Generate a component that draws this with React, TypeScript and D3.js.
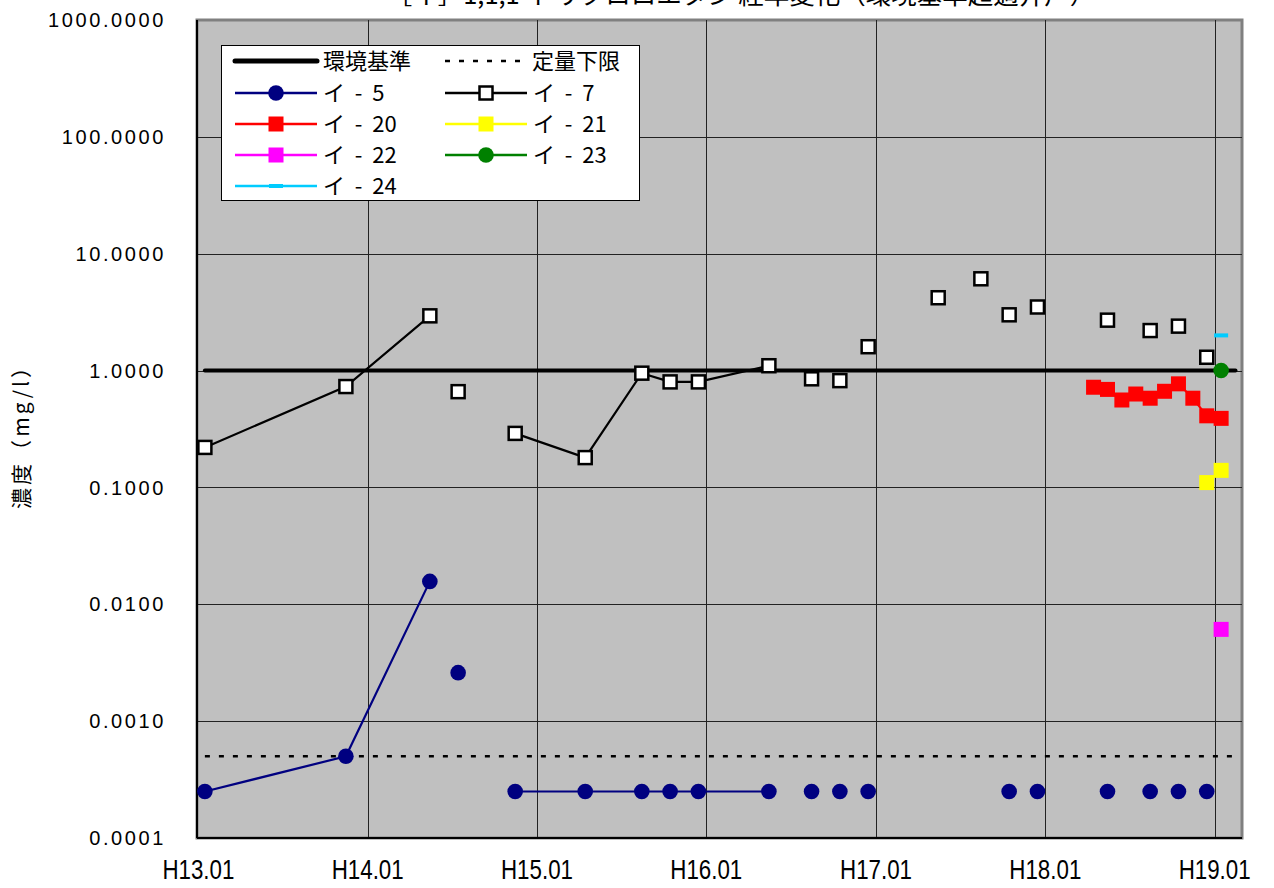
import React from "react";
import * as d3 from "d3";

// ---------- data ----------
const chartTitle = "［イ］1,1,1-トリクロロエタン 経年変化（環境基準超過井戸）";
const yAxisTitle = "濃度（mg/l）";

const xTickDates = ["2001-01-01", "2002-01-01", "2003-01-01", "2004-01-01", "2005-01-01", "2006-01-01", "2007-01-01"];
const xTickLabels = ["H13.01", "H14.01", "H15.01", "H16.01", "H17.01", "H18.01", "H19.01"];
const yTickValues = [0.0001, 0.001, 0.01, 0.1, 1, 10, 100, 1000];

// reference lines
const envStandardValue = 1.0;
const loqValue = 0.0005;
const refLineDates = ["2001-01-15", "2007-02-15"];

// null entries mark a gap in the record (line break)
const i5Dates = [
  "2001-01-15", "2001-11-15", "2002-05-15", null, "2002-07-15", null,
  "2002-11-15", "2003-04-15", "2003-08-15", "2003-10-15", "2003-12-15", "2004-05-15", null,
  "2004-08-15", null, "2004-10-15", null, "2004-12-15", null,
  "2005-10-15", null, "2005-12-15", null, "2006-05-15", null, "2006-08-15", null,
  "2006-10-15", null, "2006-12-15",
];
const i5Values = [
  0.00025, 0.0005, 0.0157, null, 0.0026, null,
  0.00025, 0.00025, 0.00025, 0.00025, 0.00025, 0.00025, null,
  0.00025, null, 0.00025, null, 0.00025, null,
  0.00025, null, 0.00025, null, 0.00025, null, 0.00025, null,
  0.00025, null, 0.00025,
];

const i7Dates = [
  "2001-01-15", "2001-11-15", "2002-05-15", null, "2002-07-15", null,
  "2002-11-15", "2003-04-15", "2003-08-15", "2003-10-15", "2003-12-15", "2004-05-15", null,
  "2004-08-15", null, "2004-10-15", null, "2004-12-15", null,
  "2005-05-15", null, "2005-08-15", null, "2005-10-15", null, "2005-12-15", null,
  "2006-05-15", null, "2006-08-15", null, "2006-10-15", null, "2006-12-15",
];
const i7Values = [
  0.22, 0.73, 2.94, null, 0.66, null,
  0.29, 0.18, 0.95, 0.80, 0.80, 1.10, null,
  0.85, null, 0.82, null, 1.6, null,
  4.2, null, 6.1, null, 3.0, null, 3.5, null,
  2.7, null, 2.2, null, 2.4, null, 1.3,
];

const i20Dates = [
  "2006-04-15", "2006-05-15", "2006-06-15", "2006-07-15", "2006-08-15",
  "2006-09-15", "2006-10-15", "2006-11-15", "2006-12-15", "2007-01-15",
];
const i20Values = [0.72, 0.69, 0.56, 0.63, 0.58, 0.665, 0.77, 0.58, 0.41, 0.39];

const i21Dates = ["2006-12-15", "2007-01-15"];
const i21Values = [0.11, 0.14];

const i22Dates = ["2007-01-15"];
const i22Values = [0.0061];

const i23Dates = ["2007-01-15"];
const i23Values = [1.0];

const i24Dates = ["2007-01-15"];
const i24Values = [2.0];

// ---------- chart ----------
const W = 1274;
const H = 888;
const plot = { left: 197, right: 1242, top: 20, bottom: 838 };

const parse = d3.timeParse("%Y-%m-%d");

type Pt = { d: Date | null; v: number | null };
const zipSeries = (dates: (string | null)[], vals: (number | null)[]): Pt[] =>
  dates.map((s, i) => ({ d: s ? parse(s) : null, v: vals[i] }));

type MarkerKind = "circle" | "square" | "hollowSquare" | "dash";
interface Series {
  name: string;
  color: string;
  marker: MarkerKind;
  pts: Pt[];
}

const series: Series[] = [
  { name: "イ - 5", color: "#000080", marker: "circle", pts: zipSeries(i5Dates, i5Values) },
  { name: "イ - 7", color: "#000000", marker: "hollowSquare", pts: zipSeries(i7Dates, i7Values) },
  { name: "イ - 20", color: "#FF0000", marker: "square", pts: zipSeries(i20Dates, i20Values) },
  { name: "イ - 21", color: "#FFFF00", marker: "square", pts: zipSeries(i21Dates, i21Values) },
  { name: "イ - 22", color: "#FF00FF", marker: "square", pts: zipSeries(i22Dates, i22Values) },
  { name: "イ - 23", color: "#008000", marker: "circle", pts: zipSeries(i23Dates, i23Values) },
  { name: "イ - 24", color: "#00CCFF", marker: "dash", pts: zipSeries(i24Dates, i24Values) },
];

const x = d3
  .scaleTime()
  .domain([new Date(2000, 11, 29), new Date(2007, 2, 1)])
  .range([plot.left, plot.right]);
const y = d3.scaleLog().domain([0.0001, 1000]).range([plot.bottom, plot.top]);

const lineGen = d3
  .line<Pt>()
  .defined((p) => p.d != null && p.v != null)
  .x((p) => x(p.d as Date))
  .y((p) => y(p.v as number));

function Marker({ kind, color, cx, cy }: { kind: MarkerKind; color: string; cx: number; cy: number }) {
  if (kind === "circle") return <circle cx={cx} cy={cy} r={7.8} fill={color} />;
  if (kind === "square") return <rect x={cx - 7.5} y={cy - 7.5} width={15} height={15} fill={color} />;
  if (kind === "hollowSquare")
    return <rect x={cx - 6.5} y={cy - 6.5} width={13} height={13} fill="#FFFFFF" stroke="#000" strokeWidth={2.5} />;
  return <rect x={cx - 7} y={cy - 2} width={14} height={4} fill={color} />;
}

export default function App() {
  const refDates = refLineDates.map((s) => parse(s) as Date);
  const gridY = yTickValues.filter((v) => v > 0.0001 && v < 1000);
  const gridX = xTickDates.slice(1).map((s) => parse(s) as Date);

  const legendRows = [
    { col: 0, row: 1, s: series[0] },
    { col: 1, row: 1, s: series[1] },
    { col: 0, row: 2, s: series[2] },
    { col: 1, row: 2, s: series[3] },
    { col: 0, row: 3, s: series[4] },
    { col: 1, row: 3, s: series[5] },
    { col: 0, row: 4, s: series[6] },
  ];
  const legCols = [235, 445];
  const legRowY = [61, 93, 124, 155, 186];
  const legLineLen = 82;
  const legFont = "'Noto Sans CJK JP', 'Noto Sans', sans-serif";

  return (
    <svg
      width={W}
      height={H}
      style={{ position: "absolute", left: 0, top: 0, background: "#FFFFFF" }}
    >
      {/* title (partly cut off at top, as in the source) */}
      <text x={741} y={4} textAnchor="middle" fontSize={25.5} fontFamily={legFont} fill="#000">
        {chartTitle}
      </text>

      {/* plot background */}
      <rect
        x={plot.left}
        y={plot.top}
        width={plot.right - plot.left}
        height={plot.bottom - plot.top}
        fill="#C0C0C0"
        stroke="#808080"
        strokeWidth={3}
      />

      {/* grid */}
      {gridY.map((v) => (
        <line key={"gy" + v} x1={plot.left} x2={plot.right} y1={Math.round(y(v)) + 0.5} y2={Math.round(y(v)) + 0.5} stroke="#222" strokeWidth={1} />
      ))}
      {gridX.map((d, i) => (
        <line key={"gx" + i} x1={Math.round(x(d)) + 0.5} x2={Math.round(x(d)) + 0.5} y1={plot.top} y2={plot.bottom} stroke="#222" strokeWidth={1} />
      ))}

      {/* axis lines */}
      <line x1={plot.left} x2={plot.left} y1={plot.top} y2={plot.bottom} stroke="#000" strokeWidth={2} />
      <line x1={plot.left} x2={plot.right} y1={plot.bottom} y2={plot.bottom} stroke="#000" strokeWidth={2} />

      {/* reference lines */}
      <line x1={x(refDates[0])} x2={x(refDates[1])} y1={y(envStandardValue)} y2={y(envStandardValue)} stroke="#000" strokeWidth={4} strokeLinecap="round" />
      <line x1={x(refDates[0])} x2={x(refDates[1])} y1={y(loqValue)} y2={y(loqValue)} stroke="#000" strokeWidth={2.5} strokeDasharray="5 9" />

      {/* series */}
      {series.map((s) => (
        <g key={s.name}>
          <path d={lineGen(s.pts) || ""} fill="none" stroke={s.color} strokeWidth={2.2} />
          {s.pts
            .filter((p) => p.d != null && p.v != null)
            .map((p, i) => (
              <Marker key={i} kind={s.marker} color={s.color} cx={x(p.d as Date)} cy={y(p.v as number)} />
            ))}
        </g>
      ))}

      {/* y tick labels */}
      {yTickValues.map((v) => (
        <text
          key={"yt" + v}
          x={166}
          y={y(v)}
          dy="0.36em"
          textAnchor="end"
          fontSize={20}
          letterSpacing={2.6}
          fontFamily="'Liberation Sans', Arial, sans-serif"
          fill="#000"
        >
          {d3.format(".4f")(v)}
        </text>
      ))}

      {/* x tick labels */}
      {xTickDates.map((s, i) => (
        <text
          key={"xt" + s}
          x={x(parse(s) as Date)}
          y={879}
          textAnchor="middle"
          fontSize={27}
          fontFamily="'Liberation Sans', Arial, sans-serif"
          textLength={72}
          lengthAdjust="spacingAndGlyphs"
          fill="#000"
        >
          {xTickLabels[i]}
        </text>
      ))}

      {/* y axis title */}
      <text
        transform="translate(29,433) rotate(-90)"
        textAnchor="middle"
        fontSize={21}
        fontFamily={legFont}
        textLength={152}
        lengthAdjust="spacing"
        fill="#000"
      >
        {yAxisTitle}
      </text>

      {/* legend */}
      <rect x={221.5} y={45.5} width={418} height={155} fill="#FFFFFF" stroke="#000" strokeWidth={1} />
      <line x1={legCols[0]} x2={legCols[0] + legLineLen} y1={legRowY[0]} y2={legRowY[0]} stroke="#000" strokeWidth={5} strokeLinecap="round" />
      <text x={legCols[0] + legLineLen + 6} y={legRowY[0]} dy="0.36em" fontSize={22} fontFamily={legFont}>環境基準</text>
      <line x1={legCols[1]} x2={legCols[1] + legLineLen} y1={legRowY[0]} y2={legRowY[0]} stroke="#000" strokeWidth={2.5} strokeDasharray="5 9" />
      <text x={legCols[1] + legLineLen + 5} y={legRowY[0]} dy="0.36em" fontSize={22} fontFamily={legFont}>定量下限</text>
      {legendRows.map(({ col, row, s }) => {
        const lx = legCols[col];
        const ly = legRowY[row];
        return (
          <g key={"lg" + s.name}>
            <line x1={lx} x2={lx + legLineLen} y1={ly} y2={ly} stroke={s.color} strokeWidth={2.5} />
            <Marker kind={s.marker} color={s.color} cx={lx + legLineLen / 2} cy={ly} />
            <text
              x={lx + legLineLen + 6}
              y={ly}
              dy="0.36em"
              fontSize={22}
              fontFamily={legFont}
              style={{ whiteSpace: "pre" }}
            >
              {s.name.replace(/ /g, "  ")}
            </text>
          </g>
        );
      })}
    </svg>
  );
}
